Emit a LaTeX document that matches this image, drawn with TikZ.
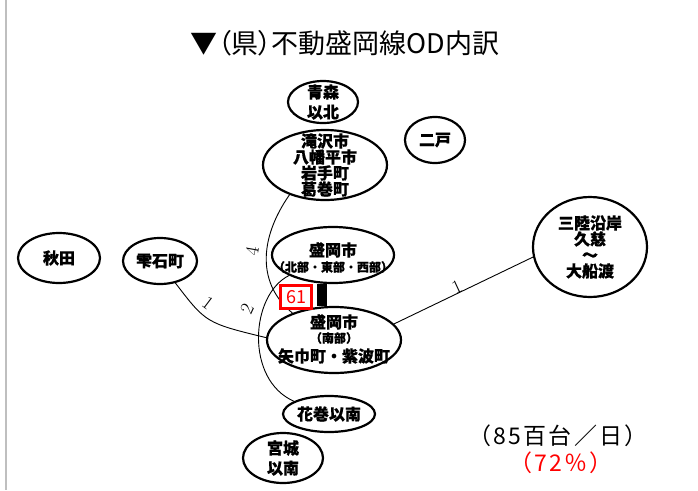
\documentclass[tikz,border=0pt]{standalone}
\usepackage{fontspec}
\usetikzlibrary{shapes.geometric}
\newfontfamily\jp{Noto Sans CJK JP}
\newfontfamily\jpb{Noto Sans CJK JP}[BoldFeatures={FakeBold=0.6}]
\newfontfamily\jpp{Noto Sans CJK JP}[RawFeature=+palt]
\newfontfamily\jpw{Noto Sans CJK JP}[LetterSpace=10]
\definecolor{odred}{RGB}{255,0,0}
\tikzset{
  place/.style={ellipse, draw, line width=2.2pt, fill=white, inner sep=0pt},
  ptext/.style={font=\jpb\bfseries\fontsize{16}{16}\selectfont, align=center, inner sep=0pt},
  subtext/.style={font=\jpb\bfseries\fontsize{12}{12}\selectfont, inner sep=0pt},
  flow/.style={line width=0.9pt},
  cnt/.style={font=\fontsize{19}{19}\selectfont, inner sep=0pt},
  total/.style={font=\jpw\fontsize{23}{23}\selectfont, inner sep=0pt},
}
\begin{document}
\begin{tikzpicture}[x=1pt,y=-1pt]
\useasboundingbox (0,0) rectangle (698,490);
\fill[white] (0,0) rectangle (698,490);
\draw[gray!50, line width=1.5pt] (6,0) -- (6,490);

% title
\node[font=\jpp\fontsize{27}{27}\selectfont, inner sep=0pt] (title) at (345,43) {▼（県）不動盛岡線OD内訳};

% ellipses
\node[place, minimum width=122, minimum height=56] (north) at (333,255) {};
\node[place, minimum width=134, minimum height=66] (nanbu) at (334,340) {};
\node[place, minimum width=70, minimum height=42] (aomori) at (323,102) {};
\node[place, minimum width=60, minimum height=46] (ninohe) at (435,140) {};
\node[place, minimum width=124, minimum height=70] (tak) at (325,165) {};
\node[place, minimum width=82, minimum height=50] (akita) at (59,258) {};
\node[place, minimum width=74, minimum height=46] (shizu) at (160,261) {};
\node[place, minimum width=114, minimum height=100] (sanriku) at (590,247) {};
\node[place, minimum width=92, minimum height=36] (hana) at (329,414) {};
\node[place, minimum width=80, minimum height=50] (miyagi) at (283,458) {};

% self flow bar
\draw[line width=9.5pt] ([xshift=-11pt]north.south) -- ([xshift=-12pt]nanbu.north);

% connectors
\draw[flow] (tak.220) .. controls (258,240) and (258,285) .. (nanbu.147);
\draw[flow] (north.205) .. controls (250,295) and (245,380) .. (hana.160);
\draw[flow] (shizu.-55) .. controls (206,323) .. (nanbu.178);
\draw[flow] (nanbu.15) -- (sanriku.190);

% node texts
\node[ptext, font=\jpb\bfseries\fontsize{16}{20}\selectfont] (aomori-t) at (aomori) {青森\\以北};
\node[ptext] (ninohe-t) at (ninohe) {二戸};
\node[ptext] (tak-t) at (tak) {滝沢市\\八幡平市\\岩手町\\葛巻町};
\node[ptext] (akita-t) at (akita) {秋田};
\node[ptext] (shizu-t) at (shizu) {雫石町};
\node[ptext] (sanriku-t) at (sanriku) {三陸沿岸\\久慈\\～\\大船渡};
\node[ptext] (hana-t) at (hana) {花巻以南};
\node[ptext, font=\jpb\bfseries\fontsize{16}{20}\selectfont] (miyagi-t) at (miyagi) {宮城\\以南};
\node[ptext] (north-t1) at (333,250) {盛岡市};
\node[subtext] (north-t2) at (333,267) {（北部・東部・西部）};
\node[ptext] (nanbu-t1) at (334,322) {盛岡市};
\node[subtext] (nanbu-t2) at (334,338) {（南部）};
\node[ptext] (nanbu-t3) at (334,356) {矢巾町・紫波町};

% volume box
\node[draw=odred, line width=2.2pt, fill=white, text=odred, minimum width=31, minimum height=23, inner sep=0pt, font=\jp\fontsize{18}{18}\selectfont] (vol) at (296,297) {61};

% counts
\node[cnt, rotate=80] (c4) at (252,251) {4};
\node[cnt, rotate=65] (c2) at (247,309) {2};
\node[cnt, rotate=-37] (c1a) at (208,303) {1};
\node[cnt, rotate=25] (c1b) at (457,287) {1};

% totals
\node[total] (tot) at (558,436) {（85百台／日）};
\node[total, text=odred] (pct) at (561,463) {（72％）};
\end{tikzpicture}
\end{document}
